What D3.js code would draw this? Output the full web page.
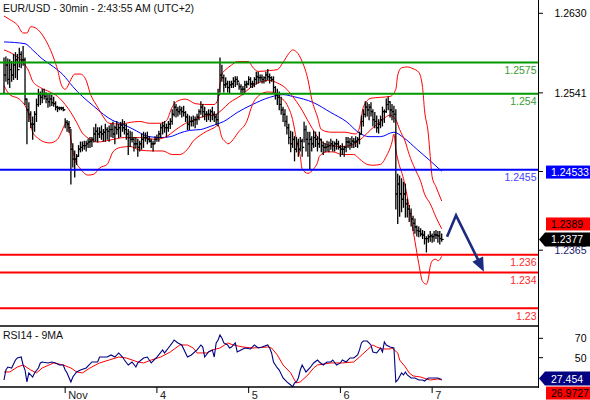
<!DOCTYPE html>
<html>
<head>
<meta charset="utf-8">
<script src="https://cdn.jsdelivr.net/npm/d3@7/dist/d3.min.js"></script>
<style>
html,body{margin:0;padding:0;background:#fff;}
svg{display:block;}
text{font-family:"Liberation Sans",Arial,sans-serif;}
</style>
</head>
<body>
<svg id="chart" width="590" height="400"></svg>
<script>
// ================= DATA =================
const title = "EUR/USD - 30min - 2:43:55 AM (UTC+2)";
const rsiTitle = "RSI14 - 9MA";

// 30-min OHLC bars (open = previous close)
const high = [
1.2580,1.2581,1.2579,1.2578,1.2576,1.2584,1.2586,1.2584,1.2591,1.2587,
1.2593,1.2580,1.2534,1.2530,1.2520,1.2514,1.2520,1.2534,1.2545,1.2542,
1.2545,1.2545,1.2541,1.2539,1.2539,1.2538,1.2536,1.2531,1.2526,1.2525,
1.2525,1.2525,1.2512,1.2510,1.2509,1.2500,1.2484,1.2476,1.2472,1.2482,
1.2486,1.2486,1.2487,1.2487,1.2489,1.2491,1.2491,1.2502,1.2506,1.2502,
1.2502,1.2504,1.2500,1.2506,1.2502,1.2504,1.2506,1.2508,1.2504,1.2509,
1.2506,1.2508,1.2511,1.2509,1.2506,1.2500,1.2498,1.2497,1.2491,1.2491,
1.2489,1.2487,1.2495,1.2497,1.2496,1.2497,1.2492,1.2489,1.2487,1.2492,
1.2494,1.2498,1.2506,1.2508,1.2509,1.2506,1.2509,1.2512,1.2522,1.2531,
1.2528,1.2525,1.2526,1.2525,1.2526,1.2520,1.2517,1.2515,1.2514,1.2515,
1.2514,1.2517,1.2522,1.2531,1.2528,1.2525,1.2520,1.2522,1.2522,1.2525,
1.2520,1.2517,1.2545,1.2580,1.2572,1.2561,1.2558,1.2554,1.2554,1.2554,
1.2558,1.2559,1.2559,1.2552,1.2550,1.2548,1.2554,1.2554,1.2559,1.2558,
1.2554,1.2558,1.2564,1.2564,1.2561,1.2561,1.2559,1.2564,1.2567,1.2562,
1.2559,1.2559,1.2548,1.2545,1.2542,1.2536,1.2525,1.2522,1.2515,1.2506,
1.2498,1.2497,1.2492,1.2491,1.2489,1.2491,1.2489,1.2508,1.2504,1.2497,
1.2497,1.2492,1.2498,1.2497,1.2492,1.2497,1.2489,1.2486,1.2484,1.2487,
1.2486,1.2489,1.2487,1.2486,1.2489,1.2487,1.2482,1.2484,1.2481,1.2491,
1.2491,1.2490,1.2492,1.2490,1.2492,1.2491,1.2497,1.2515,1.2522,1.2531,
1.2530,1.2528,1.2530,1.2522,1.2519,1.2515,1.2511,1.2515,1.2525,1.2522,
1.2534,1.2536,1.2531,1.2528,1.2526,1.2522,1.2450,1.2448,1.2445,1.2441,
1.2439,1.2422,1.2415,1.2411,1.2403,1.2400,1.2392,1.2391,1.2389,1.2387,
1.2386,1.2380,1.2382,1.2386,1.2383,1.2386,1.2387,1.2386,1.2386,1.2383
];
const low = [
1.2541,1.2554,1.2551,1.2547,1.2554,1.2556,1.2558,1.2556,1.2570,1.2569,
1.2572,1.2528,1.2484,1.2509,1.2502,1.2489,1.2498,1.2509,1.2526,1.2528,
1.2530,1.2534,1.2530,1.2525,1.2526,1.2527,1.2526,1.2522,1.2520,1.2522,
1.2522,1.2521,1.2502,1.2498,1.2497,1.2439,1.2458,1.2447,1.2461,1.2470,
1.2475,1.2476,1.2478,1.2476,1.2480,1.2480,1.2481,1.2486,1.2487,1.2486,
1.2491,1.2489,1.2487,1.2487,1.2489,1.2487,1.2492,1.2491,1.2484,1.2495,
1.2491,1.2492,1.2498,1.2495,1.2489,1.2472,1.2481,1.2486,1.2476,1.2480,
1.2470,1.2476,1.2478,1.2480,1.2487,1.2484,1.2486,1.2480,1.2476,1.2484,
1.2487,1.2487,1.2491,1.2495,1.2497,1.2492,1.2498,1.2501,1.2506,1.2515,
1.2514,1.2515,1.2517,1.2514,1.2515,1.2509,1.2500,1.2500,1.2504,1.2504,
1.2502,1.2506,1.2511,1.2517,1.2514,1.2511,1.2509,1.2511,1.2509,1.2511,
1.2509,1.2506,1.2504,1.2542,1.2554,1.2542,1.2547,1.2542,1.2541,1.2547,
1.2547,1.2548,1.2550,1.2545,1.2540,1.2539,1.2542,1.2547,1.2550,1.2547,
1.2547,1.2548,1.2551,1.2552,1.2554,1.2552,1.2552,1.2554,1.2556,1.2552,
1.2554,1.2542,1.2534,1.2528,1.2522,1.2517,1.2509,1.2504,1.2495,1.2484,
1.2475,1.2480,1.2465,1.2475,1.2470,1.2476,1.2470,1.2486,1.2476,1.2470,
1.2456,1.2476,1.2480,1.2481,1.2476,1.2480,1.2475,1.2472,1.2475,1.2476,
1.2475,1.2478,1.2476,1.2476,1.2478,1.2478,1.2470,1.2472,1.2470,1.2475,
1.2480,1.2478,1.2480,1.2480,1.2481,1.2480,1.2484,1.2495,1.2504,1.2514,
1.2515,1.2511,1.2515,1.2504,1.2502,1.2497,1.2496,1.2502,1.2504,1.2508,
1.2519,1.2522,1.2514,1.2511,1.2508,1.2411,1.2395,1.2403,1.2408,1.2413,
1.2402,1.2402,1.2397,1.2392,1.2387,1.2384,1.2381,1.2380,1.2381,1.2378,
1.2372,1.2363,1.2374,1.2375,1.2374,1.2375,1.2378,1.2374,1.2372,1.2375
];
const close = [
1.2561,1.2572,1.2556,1.2567,1.2561,1.2572,1.2578,1.2567,1.2584,1.2578,
1.2578,1.2534,1.2522,1.2517,1.2506,1.2506,1.2517,1.2528,1.2539,1.2536,
1.2539,1.2537,1.2534,1.2531,1.2534,1.2530,1.2529,1.2525,1.2524,1.2524,
1.2524,1.2522,1.2508,1.2506,1.2502,1.2478,1.2467,1.2467,1.2470,1.2478,
1.2480,1.2482,1.2482,1.2484,1.2486,1.2487,1.2489,1.2495,1.2498,1.2495,
1.2497,1.2495,1.2497,1.2500,1.2498,1.2500,1.2500,1.2495,1.2502,1.2500,
1.2502,1.2505,1.2502,1.2500,1.2495,1.2491,1.2489,1.2489,1.2484,1.2484,
1.2480,1.2484,1.2489,1.2491,1.2491,1.2489,1.2487,1.2484,1.2484,1.2489,
1.2491,1.2495,1.2502,1.2504,1.2502,1.2502,1.2506,1.2509,1.2517,1.2525,
1.2522,1.2520,1.2522,1.2520,1.2519,1.2514,1.2506,1.2509,1.2509,1.2511,
1.2511,1.2514,1.2520,1.2525,1.2520,1.2517,1.2517,1.2517,1.2520,1.2517,
1.2514,1.2511,1.2539,1.2561,1.2558,1.2550,1.2551,1.2547,1.2550,1.2551,
1.2554,1.2556,1.2554,1.2548,1.2545,1.2545,1.2550,1.2551,1.2556,1.2551,
1.2551,1.2556,1.2559,1.2558,1.2558,1.2556,1.2558,1.2561,1.2559,1.2558,
1.2556,1.2547,1.2539,1.2536,1.2528,1.2522,1.2517,1.2509,1.2502,1.2491,
1.2484,1.2489,1.2478,1.2484,1.2478,1.2487,1.2480,1.2500,1.2489,1.2484,
1.2489,1.2484,1.2491,1.2489,1.2484,1.2489,1.2482,1.2480,1.2480,1.2481,
1.2482,1.2484,1.2482,1.2484,1.2484,1.2480,1.2478,1.2478,1.2480,1.2486,
1.2486,1.2484,1.2487,1.2486,1.2487,1.2489,1.2495,1.2509,1.2517,1.2525,
1.2522,1.2525,1.2520,1.2511,1.2509,1.2502,1.2506,1.2511,1.2520,1.2520,
1.2528,1.2531,1.2522,1.2520,1.2517,1.2428,1.2439,1.2428,1.2422,1.2428,
1.2417,1.2411,1.2406,1.2400,1.2395,1.2391,1.2387,1.2386,1.2383,1.2382,
1.2378,1.2378,1.2380,1.2381,1.2380,1.2382,1.2382,1.2381,1.2378,1.2377
];

// Bollinger bands and slow moving average, [bar index, price]
const upperBand = [[0,1.2627],[3,1.2623],[7,1.2617],[10,1.2608],[12,1.2608],[14,1.2615],[17,1.2613],[20,1.2606],[23,1.2595],[26,1.2580],
[28,1.2567],[30,1.2550],[32,1.2545],[33,1.2547],[35,1.2556],[37,1.2562],[40,1.2562],[43,1.2555],[45,1.2541],[49,1.2525],
[52,1.2514],[55,1.2507],[61,1.2506],[66,1.2508],[71,1.2509],[76,1.2507],[82,1.2507],[85,1.2510],[88,1.2525],[91,1.2532],
[95,1.2534],[100,1.2529],[105,1.2528],[110,1.2528],[112,1.2534],[113,1.2550],[114,1.2562],[116,1.2567],[119,1.2572],[122,1.2576],
[128,1.2576],[130,1.2570],[133,1.2565],[139,1.2566],[143,1.2567],[146,1.2575],[149,1.2585],[151,1.2589],[153,1.2587],[156,1.2576],
[159,1.2556],[161,1.2534],[164,1.2514],[166,1.2500],[171,1.2497],[178,1.2497],[184,1.2495],[186,1.2502],[188,1.2525],[192,1.2535],
[197,1.2536],[202,1.2537],[205,1.2545],[206,1.2561],[208,1.2569],[211,1.2570],[214,1.2568],[217,1.2564],[219,1.2547],[220,1.2522],
[222,1.2495],[223,1.2470],[224,1.2447],[226,1.2436],[229,1.2420]];
const middleBand = [[0,1.2589],[5,1.2584],[10,1.2575],[13,1.2565],[15,1.2554],[19,1.2547],[24,1.2542],[28,1.2537],[32,1.2528],[35,1.2519],
[38,1.2508],[41,1.2496],[43,1.2492],[49,1.2486],[55,1.2488],[63,1.2491],[71,1.2491],[79,1.2489],[84,1.2491],[90,1.2500],
[95,1.2507],[100,1.2511],[105,1.2515],[110,1.2516],[114,1.2522],[118,1.2530],[124,1.2538],[129,1.2547],[134,1.2553],[139,1.2555],
[143,1.2552],[147,1.2547],[151,1.2537],[155,1.2525],[160,1.2506],[165,1.2489],[171,1.2482],[176,1.2481],[181,1.2482],[186,1.2488],
[192,1.2500],[197,1.2509],[202,1.2516],[205,1.2511],[207,1.2500],[210,1.2486],[212,1.2472],[215,1.2456],[218,1.2442],[220,1.2428],
[223,1.2417],[226,1.2402],[229,1.2389]];
const lowerBand = [[0,1.2549],[3,1.2539],[8,1.2534],[13,1.2517],[15,1.2497],[18,1.2490],[20,1.2487],[24,1.2485],[28,1.2489],[30,1.2497],
[32,1.2506],[33,1.2508],[35,1.2489],[37,1.2467],[40,1.2456],[44,1.2449],[47,1.2450],[50,1.2457],[54,1.2461],[55,1.2465],
[57,1.2475],[61,1.2480],[66,1.2481],[71,1.2477],[78,1.2476],[83,1.2476],[88,1.2472],[92,1.2472],[96,1.2478],[99,1.2487],
[103,1.2494],[106,1.2498],[110,1.2502],[112,1.2505],[114,1.2491],[116,1.2486],[117,1.2484],[123,1.2498],[127,1.2509],[130,1.2528],
[134,1.2539],[138,1.2542],[142,1.2541],[144,1.2537],[148,1.2528],[151,1.2511],[153,1.2489],[155,1.2470],[156,1.2456],[159,1.2451],
[162,1.2456],[164,1.2463],[165,1.2470],[169,1.2475],[172,1.2475],[177,1.2472],[183,1.2472],[186,1.2467],[190,1.2461],[193,1.2460],
[197,1.2461],[200,1.2470],[203,1.2486],[204,1.2495],[205,1.2478],[206,1.2467],[209,1.2445],[211,1.2425],[213,1.2400],[215,1.2375],
[217,1.2350],[219,1.2330],[221,1.2327],[222,1.2333],[223,1.2347],[224,1.2353],[226,1.2355],[227,1.2353],[229,1.2358]];
const slowMA = [[0,1.2598],[11,1.2596],[15,1.2589],[20,1.2579],[26,1.2570],[31,1.2561],[36,1.2548],[41,1.2537],[47,1.2526],[52,1.2517],
[57,1.2510],[62,1.2506],[67,1.2501],[76,1.2492],[82,1.2491],[87,1.2492],[92,1.2496],[97,1.2499],[103,1.2500],[106,1.2502],
[110,1.2505],[115,1.2509],[122,1.2519],[130,1.2528],[139,1.2536],[146,1.2539],[151,1.2537],[162,1.2530],[171,1.2519],[179,1.2509],
[186,1.2496],[191,1.2492],[197,1.2492],[204,1.2497],[209,1.2491],[216,1.2478],[223,1.2465],[229,1.24533]];

// RSI(14) and its 9-period MA, [bar index, value]
const rsi14 = [[0,27.0],[1,37.3],[2,40.4],[4,39.4],[6,47.6],[7,49.7],[9,50.7],[10,42.5],[11,37.3],[12,25.0],
[13,34.3],[15,30.1],[16,34.3],[18,39.4],[19,44.6],[20,45.6],[23,44.6],[25,45.6],[27,44.6],[29,42.5],
[31,42.5],[32,37.3],[33,34.3],[35,25.0],[36,30.1],[38,35.3],[40,37.3],[43,39.4],[46,45.6],[49,45.6],
[50,50.7],[54,50.7],[56,52.8],[58,50.7],[60,54.9],[62,50.7],[63,47.6],[65,42.5],[67,45.6],[69,40.4],
[70,44.6],[73,49.7],[75,50.7],[77,44.6],[80,50.7],[83,58.0],[84,54.9],[86,60.0],[88,65.2],[89,68.3],
[91,65.2],[93,63.1],[96,50.7],[98,52.8],[101,58.0],[103,63.1],[104,61.0],[105,50.7],[107,55.9],[109,58.0],
[110,50.7],[111,65.2],[112,68.3],[113,73.4],[114,70.3],[115,65.2],[117,63.1],[118,60.0],[119,61.0],[121,65.2],
[122,55.9],[124,58.0],[126,60.0],[129,59.0],[131,63.1],[133,60.0],[135,61.0],[138,63.1],[139,60.0],[140,54.9],
[141,45.6],[143,39.4],[144,37.3],[146,29.1],[148,25.0],[150,21.9],[151,20.0],[152,24.0],[153,25.0],[154,29.1],
[155,37.3],[156,42.5],[158,35.3],[160,39.4],[162,44.6],[164,47.6],[165,45.6],[167,42.5],[169,45.6],[171,45.6],
[172,47.6],[174,42.5],[176,44.6],[177,47.6],[179,45.6],[181,49.7],[183,49.7],[185,52.8],[186,58.0],[187,65.2],
[188,67.2],[190,67.2],[192,63.1],[193,55.9],[195,54.9],[197,60.0],[198,55.9],[199,66.2],[200,63.1],[202,61.0],
[204,60.0],[205,25.0],[206,27.0],[208,34.3],[209,32.2],[210,35.3],[211,32.2],[213,29.1],[215,29.1],[217,27.0],
[219,27.0],[220,26.0],[222,29.1],[224,29.1],[227,29.1],[229,27.454]];
const rsiMA9 = [[0,35.3],[3,35.3],[7,40.4],[10,42.5],[14,37.3],[17,34.3],[20,39.4],[26,44.6],[31,42.5],[35,39.4],
[38,35.3],[41,34.3],[45,39.4],[50,44.6],[55,47.6],[60,50.7],[64,49.7],[70,45.6],[73,44.6],[77,47.6],
[82,50.7],[87,55.9],[92,63.1],[96,63.1],[99,60.0],[101,54.9],[106,54.9],[109,58.0],[113,60.0],[117,65.2],
[120,63.1],[125,61.0],[130,60.0],[138,61.0],[140,60.0],[143,52.8],[146,42.5],[150,34.3],[152,27.0],[153,24.0],
[155,25.0],[159,32.2],[162,39.4],[164,42.5],[171,44.6],[177,44.6],[183,45.6],[186,50.7],[190,58.0],[193,63.1],
[195,61.0],[198,59.0],[202,59.0],[203,60.0],[206,54.9],[207,47.6],[210,40.4],[212,34.3],[214,31.2],[218,30.1],
[221,28.1],[223,27.0],[227,28.1],[229,26.9727]];

// Horizontal support / resistance levels
const levelValues = [1.2575, 1.254, 1.2455, 1.236, 1.234, 1.23];
const levelLabels = ["1.2575", "1.254", "1.2455", "1.236", "1.234", "1.23"];
const levelKinds  = ["resistance", "resistance", "pivot", "support", "support", "support"];

// Axis ticks (the 1.2453 tick label is hidden behind the MA value box)
const priceTicks = [1.2630, 1.2541, 1.2453, 1.2365];
const priceTickLabels = ["1.2630", "1.2541", "", "1.2365"];
const rsiTicks = [70, 50];
const dayTickBars = [32, 80, 128, 176, 224];
const dayLabels = ["Nov", "4", "5", "6", "7"];

// Forecast arrow: [bar index, price]
const forecastPath = [[231.8, 1.2380], [236.5, 1.2404], [251.1, 1.2341]];

// ================= STYLE / LAYOUT =================
const plotRight = 538;
const mainBottom = 326;
const rsiBottom = 387;
const levelStyle = {
  resistance: {line: "#009a00", text: "#3a9a33"},
  pivot:      {line: "#0000ff", text: "#4444ff"},
  support:    {line: "#ff0000", text: "#ff2a2a"}
};

const svg = d3.select("#chart");
const x = d3.scaleLinear().domain([0, 229]).range([4, 441.7]);
const y = d3.scaleLinear().domain([1.2630, 1.2300]).range([13.3, 308.3]);
const yR = d3.scaleLinear().domain([70, 50]).range([338.3, 357.7]);

const defs = svg.append("defs");
defs.append("clipPath").attr("id", "clipMain").append("rect")
  .attr("x", 0).attr("y", 0).attr("width", plotRight).attr("height", mainBottom);
defs.append("clipPath").attr("id", "clipRsi").append("rect")
  .attr("x", 0).attr("y", mainBottom + 1).attr("width", plotRight).attr("height", rsiBottom - mainBottom - 1);

const gMain = svg.append("g").attr("clip-path", "url(#clipMain)");
const lineP = d3.line().x(d => x(d[0])).y(d => y(d[1])).curve(d3.curveMonotoneX);

// moving average + bands (under bars)
gMain.append("path").datum(slowMA).attr("d", lineP)
  .attr("fill", "none").attr("stroke", "#0000ff").attr("stroke-width", 1);
[upperBand, middleBand, lowerBand].forEach(b => {
  gMain.append("path").datum(b).attr("d", lineP)
    .attr("fill", "none").attr("stroke", "#ff0000").attr("stroke-width", 1);
});

// OHLC bars
const idx = d3.range(high.length);
const gBars = gMain.append("g").attr("stroke", "#000");
gBars.selectAll("line.hl").data(idx).join("line").attr("class", "hl")
  .attr("x1", i => x(i)).attr("x2", i => x(i))
  .attr("y1", i => y(high[i]) - 0.5).attr("y2", i => y(low[i]) + 0.5)
  .attr("stroke-width", 1.3);
gBars.selectAll("line.op").data(idx.slice(1)).join("line").attr("class", "op")
  .attr("x1", i => x(i) - 2).attr("x2", i => x(i))
  .attr("y1", i => y(close[i - 1])).attr("y2", i => y(close[i - 1]))
  .attr("stroke-width", 1.1);
gBars.selectAll("line.cl").data(idx).join("line").attr("class", "cl")
  .attr("x1", i => x(i)).attr("x2", i => x(i) + 2)
  .attr("y1", i => y(close[i])).attr("y2", i => y(close[i]))
  .attr("stroke-width", 1.1);

// horizontal levels
levelValues.forEach((v, k) => {
  const st = levelStyle[levelKinds[k]];
  gMain.append("line").attr("x1", 0).attr("x2", plotRight)
    .attr("y1", y(v)).attr("y2", y(v))
    .attr("stroke", st.line).attr("stroke-width", 2);
  svg.append("text").attr("x", 536.5).attr("y", y(v) + 11.5)
    .attr("text-anchor", "end").attr("font-size", 10.5)
    .attr("fill", st.text).text(levelLabels[k]);
});

// forecast arrow
{
  const pts = forecastPath.map(d => [x(d[0]), y(d[1])]);
  const p1 = pts[1], tip = pts[2];
  const dx = tip[0] - p1[0], dy = tip[1] - p1[1], len = Math.hypot(dx, dy);
  const ux = dx / len, uy = dy / len, px = -uy, py = ux;
  const headL = 14, headW = 6;
  const end = [tip[0] - ux * (headL - 2), tip[1] - uy * (headL - 2)];
  svg.append("path")
    .attr("d", d3.line()([pts[0], pts[1], end]))
    .attr("fill", "none").attr("stroke", "#1c2a80").attr("stroke-width", 2.6)
    .attr("stroke-linejoin", "miter");
  const bc = [tip[0] - ux * headL, tip[1] - uy * headL];
  svg.append("path")
    .attr("d", d3.line()([tip, [bc[0] + px * headW, bc[1] + py * headW], [bc[0] - px * headW, bc[1] - py * headW]]) + "Z")
    .attr("fill", "#1c2a80");
}

// title
svg.append("text").attr("x", 3).attr("y", 11.5).attr("font-size", 10.5)
  .attr("fill", "#111").text(title);

// ===== RSI panel =====
const gR = svg.append("g").attr("clip-path", "url(#clipRsi)");
const lineR = d3.line().x(d => x(d[0])).y(d => yR(d[1]));
gR.append("path").datum(rsiMA9).attr("d", lineR)
  .attr("fill", "none").attr("stroke", "#ff0000").attr("stroke-width", 1);
gR.append("path").datum(rsi14).attr("d", lineR)
  .attr("fill", "none").attr("stroke", "#000080").attr("stroke-width", 1.1);

svg.append("line").attr("x1", 0).attr("x2", plotRight).attr("y1", mainBottom).attr("y2", mainBottom)
  .attr("stroke", "#000").attr("stroke-width", 1.5);
svg.append("line").attr("x1", 0).attr("x2", plotRight).attr("y1", rsiBottom).attr("y2", rsiBottom)
  .attr("stroke", "#000").attr("stroke-width", 1.5);
svg.append("text").attr("x", 3).attr("y", 338.5).attr("font-size", 10.5)
  .attr("fill", "#111").text(rsiTitle);

// right axis
svg.append("line").attr("x1", plotRight + 0.5).attr("x2", plotRight + 0.5).attr("y1", 0).attr("y2", 388)
  .attr("stroke", "#000").attr("stroke-width", 1);
priceTicks.forEach((v, k) => {
  svg.append("line").attr("x1", plotRight).attr("x2", plotRight + 5).attr("y1", y(v)).attr("y2", y(v))
    .attr("stroke", "#000").attr("stroke-width", 1);
  if (priceTickLabels[k]) {
    svg.append("text").attr("x", 586.5).attr("y", y(v) + 4).attr("text-anchor", "end")
      .attr("font-size", 10.5).attr("fill", k === 3 ? "#1a1a70" : "#000").text(priceTickLabels[k]);
  }
});
rsiTicks.forEach(v => {
  svg.append("line").attr("x1", plotRight).attr("x2", plotRight + 5).attr("y1", yR(v)).attr("y2", yR(v))
    .attr("stroke", "#000").attr("stroke-width", 1);
  svg.append("text").attr("x", 586.5).attr("y", yR(v) + 4).attr("text-anchor", "end")
    .attr("font-size", 10.5).attr("fill", "#000").text(v);
});

// bottom time axis
dayTickBars.forEach((b, k) => {
  svg.append("line").attr("x1", x(b)).attr("x2", x(b)).attr("y1", rsiBottom).attr("y2", 393)
    .attr("stroke", "#000").attr("stroke-width", 1);
  svg.append("text").attr("x", x(b) + 3).attr("y", 398.5).attr("font-size", 11)
    .attr("fill", "#222").text(dayLabels[k]);
});

// ===== current value boxes =====
const lastClose = close[close.length - 1];
const lastMA = slowMA[slowMA.length - 1][1];
const lastMid = middleBand[middleBand.length - 1][1];
const lastRsi = rsi14[rsi14.length - 1][1];
const lastRsiMA = rsiMA9[rsiMA9.length - 1][1];

function box(cy, fill, textFill, label, pointer) {
  const h = 7;
  if (pointer) {
    svg.append("path").attr("d", `M${plotRight + 1},${cy} L${plotRight + 7},${cy - h} L590,${cy - h} L590,${cy + h} L${plotRight + 7},${cy + h} Z`)
      .attr("fill", fill);
  } else {
    svg.append("rect").attr("x", 546).attr("y", cy - h + 0.5).attr("width", 44).attr("height", 2 * h - 1).attr("fill", fill);
  }
  svg.append("text").attr("x", 551).attr("y", cy + 4).attr("font-size", 10.5)
    .attr("fill", textFill).text(label);
}
box(y(lastMA) + 0.8, "#0000ff", "#fff", lastMA.toFixed(5), false);
const closeY = y(lastClose);
box(closeY, "#000", "#fff", lastClose.toFixed(4), true);
box(Math.min(y(lastMid), closeY - 15.5), "#ff0000", "#000", lastMid.toFixed(4), false);
const rsiY = yR(lastRsi) - 1;
box(rsiY, "#000080", "#fff", String(lastRsi), true);
box(Math.max(yR(lastRsiMA), rsiY + 14.5), "#ff0000", "#000", String(lastRsiMA), false);
</script>
</body>
</html>
